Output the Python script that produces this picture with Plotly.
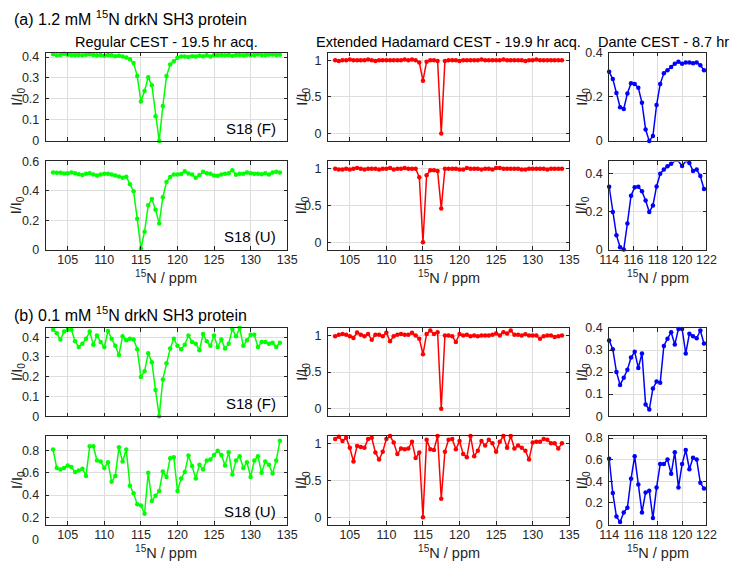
import plotly.graph_objects as go

W, H = 731, 567

# ---------------- data ----------------
ppm_cest = [103.0, 103.5, 104.0, 104.5, 105.0, 105.5, 106.0, 106.5, 107.0, 107.5,
            108.0, 108.5, 109.0, 109.5, 110.0, 110.5, 111.0, 111.5, 112.0, 112.5,
            113.0, 113.5, 114.0, 114.5, 115.0, 115.5, 116.0, 116.5, 117.0, 117.5,
            118.0, 118.5, 119.0, 119.5, 120.0, 120.5, 121.0, 121.5, 122.0, 122.5,
            123.0, 123.5, 124.0, 124.5, 125.0, 125.5, 126.0, 126.5, 127.0, 127.5,
            128.0, 128.5, 129.0, 129.5, 130.0, 130.5, 131.0, 131.5, 132.0, 132.5,
            133.0, 133.5, 134.0]
ppm_dante = [114.0, 114.3, 114.6, 114.9, 115.2, 115.5, 115.8, 116.1, 116.4, 116.7,
             117.0, 117.3, 117.6, 117.9, 118.2, 118.5, 118.8, 119.1, 119.4, 119.7,
             120.0, 120.3, 120.6, 120.9, 121.2, 121.5, 121.8]

reg_F_12 = [0.413, 0.409, 0.410, 0.416, 0.411, 0.410, 0.410, 0.410, 0.409, 0.411,
            0.413, 0.410, 0.408, 0.410, 0.406, 0.410, 0.408, 0.404, 0.406, 0.402,
            0.398, 0.390, 0.372, 0.309, 0.188, 0.238, 0.304, 0.265, 0.118, 0.000,
            0.166, 0.309, 0.364, 0.380, 0.396, 0.402, 0.402, 0.400, 0.404, 0.402,
            0.406, 0.404, 0.408, 0.402, 0.408, 0.409, 0.410, 0.408, 0.410, 0.406,
            0.410, 0.410, 0.408, 0.411, 0.408, 0.410, 0.412, 0.410, 0.410, 0.411,
            0.412, 0.410, 0.411]
reg_U_12 = [0.524, 0.522, 0.522, 0.518, 0.520, 0.524, 0.520, 0.513, 0.507, 0.516,
            0.520, 0.511, 0.504, 0.511, 0.516, 0.516, 0.511, 0.504, 0.498, 0.489,
            0.496, 0.444, 0.396, 0.209, 0.007, 0.122, 0.302, 0.344, 0.271, 0.178,
            0.356, 0.460, 0.493, 0.511, 0.511, 0.515, 0.533, 0.518, 0.511, 0.489,
            0.507, 0.529, 0.520, 0.516, 0.504, 0.502, 0.511, 0.516, 0.520, 0.540,
            0.509, 0.516, 0.516, 0.524, 0.520, 0.516, 0.516, 0.513, 0.520, 0.511,
            0.524, 0.530, 0.524]
had_F_12 = [1.00, 0.99, 1.00, 1.00, 1.01, 1.00, 1.00, 1.00, 1.00, 1.01,
            1.00, 0.99, 1.00, 1.00, 1.00, 1.00, 1.00, 1.00, 1.00, 1.01,
            1.00, 1.01, 1.00, 0.97, 0.72, 0.98, 1.00, 1.00, 0.99, 0.00,
            0.99, 1.00, 1.00, 1.00, 0.99, 1.00, 1.00, 1.00, 1.00, 1.00,
            1.01, 1.00, 1.00, 1.00, 1.00, 1.00, 1.01, 1.00, 1.00, 1.00,
            1.00, 1.00, 0.99, 1.00, 1.00, 1.01, 1.00, 1.00, 1.00, 1.00,
            1.00, 1.00, 1.00]
had_U_12 = [1.00, 0.99, 0.99, 1.00, 0.99, 1.00, 1.01, 1.00, 0.99, 1.00,
            1.00, 1.00, 0.99, 1.00, 1.00, 1.01, 0.99, 1.00, 1.00, 1.01,
            1.00, 1.00, 1.00, 0.885, 0.00, 0.912, 0.978, 0.98, 0.97, 0.458,
            1.00, 1.00, 1.00, 1.00, 0.99, 0.99, 1.01, 1.00, 1.00, 1.00,
            0.99, 1.00, 1.00, 0.99, 1.01, 1.01, 1.00, 1.00, 1.00, 1.00,
            1.00, 0.99, 0.99, 1.00, 1.00, 1.00, 1.00, 1.00, 0.99, 1.00,
            1.00, 1.00, 1.00]
dante_F_12 = [0.314, 0.281, 0.218, 0.153, 0.145, 0.215, 0.262, 0.258, 0.241, 0.173,
              0.052, 0.000, 0.022, 0.163, 0.259, 0.307, 0.321, 0.336, 0.351, 0.359,
              0.350, 0.356, 0.356, 0.353, 0.356, 0.344, 0.321]
dante_U_12 = [0.331, 0.198, 0.076, 0.012, 0.000, 0.138, 0.284, 0.328, 0.331, 0.307,
              0.259, 0.198, 0.233, 0.333, 0.400, 0.422, 0.440, 0.453, 0.466, 0.466,
              0.441, 0.466, 0.457, 0.414, 0.422, 0.388, 0.319]

reg_F_01 = [0.438, 0.420, 0.388, 0.428, 0.438, 0.438, 0.379, 0.350, 0.367, 0.392,
            0.428, 0.362, 0.408, 0.375, 0.350, 0.431, 0.392, 0.356, 0.310, 0.405,
            0.384, 0.392, 0.388, 0.339, 0.198, 0.227, 0.318, 0.273, 0.132, 0.000,
            0.186, 0.268, 0.342, 0.392, 0.356, 0.339, 0.362, 0.408, 0.375, 0.367,
            0.334, 0.416, 0.379, 0.356, 0.408, 0.350, 0.388, 0.342, 0.367, 0.441,
            0.405, 0.446, 0.356, 0.384, 0.412, 0.412, 0.350, 0.375, 0.375, 0.367,
            0.372, 0.350, 0.372]
reg_U_01 = [0.810, 0.643, 0.631, 0.643, 0.667, 0.652, 0.607, 0.622, 0.637, 0.572,
            0.839, 0.839, 0.711, 0.702, 0.643, 0.696, 0.519, 0.572, 0.830, 0.702,
            0.810, 0.483, 0.415, 0.317, 0.305, 0.231, 0.600, 0.347, 0.394, 0.436,
            0.613, 0.563, 0.732, 0.741, 0.436, 0.548, 0.607, 0.756, 0.661, 0.548,
            0.673, 0.631, 0.711, 0.720, 0.761, 0.800, 0.761, 0.667, 0.785, 0.584,
            0.711, 0.750, 0.643, 0.696, 0.563, 0.711, 0.750, 0.600, 0.702, 0.673,
            0.593, 0.711, 0.889]
had_F_01 = [0.99, 1.01, 1.02, 1.01, 0.99, 0.965, 1.04, 1.01, 0.99, 1.02,
            0.94, 1.01, 1.01, 0.99, 1.035, 0.92, 0.99, 1.01, 1.02, 1.01,
            1.01, 1.035, 1.00, 0.955, 0.743, 1.02, 1.066, 1.02, 1.044, 0.00,
            1.00, 1.00, 0.99, 0.91, 1.02, 1.00, 1.01, 0.99, 1.00, 0.99,
            1.00, 1.00, 1.00, 1.01, 1.027, 1.00, 1.044, 1.027, 1.066, 1.01,
            1.01, 1.00, 1.015, 1.00, 1.00, 1.00, 0.955, 0.99, 1.00, 1.00,
            0.98, 0.99, 1.00]
had_U_01 = [1.06, 1.09, 1.03, 1.075, 0.94, 0.754, 0.965, 0.95, 0.94, 1.06,
            1.075, 0.877, 0.78, 0.886, 1.06, 1.10, 1.01, 0.855, 0.93, 0.92,
            0.93, 1.02, 0.80, 0.877, 0.00, 1.05, 0.92, 0.91, 1.10, 0.25,
            0.886, 1.05, 1.06, 0.92, 1.03, 0.855, 0.81, 1.10, 0.825, 0.90,
            1.03, 0.97, 1.05, 1.00, 0.886, 1.02, 1.10, 0.94, 1.10, 0.93,
            0.97, 0.94, 0.90, 0.78, 1.01, 1.02, 1.02, 1.06, 1.05, 1.00,
            1.00, 0.93, 1.00]
dante_F_01 = [0.344, 0.304, 0.201, 0.142, 0.174, 0.211, 0.266, 0.292, 0.219, 0.285,
              0.053, 0.030, 0.126, 0.157, 0.152, 0.319, 0.352, 0.381, 0.325, 0.396,
              0.396, 0.285, 0.374, 0.363, 0.354, 0.389, 0.330]
dante_U_01 = [0.610, 0.292, 0.074, 0.024, 0.113, 0.155, 0.423, 0.631, 0.372, 0.113,
              0.298, 0.313, 0.060, 0.342, 0.560, 0.560, 0.601, 0.470, 0.670, 0.342,
              0.560, 0.690, 0.512, 0.619, 0.601, 0.387, 0.333]

col_titles = ["Regular CEST - 19.5 hr acq.", "Extended Hadamard CEST - 19.9 hr acq.",
              "Dante CEST - 8.7 hr acq."]
group_titles = ["(a) 1.2 mM <sup>15</sup>N drkN SH3 protein",
                "(b) 0.1 mM <sup>15</sup>N drkN SH3 protein"]
residue_labels = ["S18 (F)", "S18 (U)", "S18 (F)", "S18 (U)"]

# ---------------- styling ----------------
FONT = "Arial, 'Liberation Sans', Helvetica, sans-serif"
AX = "#262626"
GRID = "#dedede"
GREEN, RED, BLUE = "#00ff00", "#ff0000", "#0000ff"

COLS = [(36.8, 285.0), (326.8, 575.0), (616.0, 716.0)]
ROWS = [(47.0, 137.3), (158.3, 248.7), (329.2, 419.5), (439.8, 530.7)]


def fx(p):
    return p / W


def fy(p):
    return 1 - p / H


panels = [
    # row, col, x, y, color, xrange, yrange, yticks
    (0, 0, ppm_cest, reg_F_12, GREEN, [102, 135], [0, 0.42], [0, 0.1, 0.2, 0.3, 0.4]),
    (1, 0, ppm_cest, reg_U_12, GREEN, [102, 135], [0, 0.6], [0, 0.2, 0.4, 0.6]),
    (0, 1, ppm_cest, had_F_12, RED, [102, 135], [-0.1, 1.1], [0, 0.5, 1]),
    (1, 1, ppm_cest, had_U_12, RED, [102, 135], [-0.1, 1.1], [0, 0.5, 1]),
    (0, 2, ppm_dante, dante_F_12, BLUE, [114, 122], [0, 0.4], [0, 0.2, 0.4]),
    (1, 2, ppm_dante, dante_U_12, BLUE, [114, 122], [0, 0.465], [0, 0.2, 0.4]),
    (2, 0, ppm_cest, reg_F_01, GREEN, [102, 135], [0, 0.446], [0, 0.1, 0.2, 0.3, 0.4]),
    (3, 0, ppm_cest, reg_U_01, GREEN, [102, 135], [0.133, 0.933], [0.2, 0.4, 0.6, 0.8]),
    (2, 1, ppm_cest, had_F_01, RED, [102, 135], [-0.1, 1.1], [0, 0.5, 1]),
    (3, 1, ppm_cest, had_U_01, RED, [102, 135], [-0.1, 1.1], [0, 0.5, 1]),
    (2, 2, ppm_dante, dante_F_01, BLUE, [114, 122], [0, 0.4], [0, 0.1, 0.2, 0.3, 0.4]),
    (3, 2, ppm_dante, dante_U_01, BLUE, [114, 122], [0, 0.82], [0, 0.2, 0.4, 0.6, 0.8]),
]

fig = go.Figure()
layout = {}
annotations = []

for i, (r, c, xs, ys, color, xr, yr, yt) in enumerate(panels):
    n = i + 1
    xa = "x" if n == 1 else f"x{n}"
    ya = "y" if n == 1 else f"y{n}"
    fig.add_trace(go.Scatter(
        x=xs, y=ys, xaxis=xa, yaxis=ya, mode="lines+markers",
        line=dict(color=color, width=1.5),
        marker=dict(color=color, size=4.5),
        cliponaxis=False, showlegend=False, hoverinfo="skip"))
    x0, x1 = COLS[c]
    y0, y1 = ROWS[r]
    if c == 2:
        xt = [114, 116, 118, 120, 122]
    else:
        xt = [105, 110, 115, 120, 125, 130, 135]
    show_xlab = r in (1, 3)
    common = dict(showline=True, linecolor=AX, linewidth=1, mirror="ticks",
                  ticks="inside", ticklen=3.5, tickcolor=AX, tickwidth=1,
                  showgrid=True, gridcolor=GRID, gridwidth=1, zeroline=False,
                  tickfont=dict(family=FONT, size=12.5, color=AX))
    layout["xaxis" if n == 1 else f"xaxis{n}"] = dict(
        domain=[fx(x0), fx(x1)], range=xr, anchor=ya, tickvals=xt,
        ticktext=[str(v) for v in xt], showticklabels=show_xlab,
        ticklabelstandoff=-2, **common)
    ytext = [("%g" % v) for v in yt]
    layout["yaxis" if n == 1 else f"yaxis{n}"] = dict(
        domain=[fy(y1), fy(y0)], range=yr, anchor=xa, tickvals=yt,
        ticktext=ytext, showticklabels=True, ticklabelstandoff=3, **common)

    # y-axis label
    ylab_x = {0: 8, 1: 301, 2: 589}[c]
    annotations.append(dict(
        x=fx(ylab_x), y=fy((y0 + y1) / 2), xref="paper", yref="paper",
        text="I/I<sub>0</sub>", showarrow=False, textangle=-90,
        font=dict(family=FONT, size=14.5, color=AX), xanchor="center", yanchor="middle"))
    # x-axis label
    if show_xlab:
        annotations.append(dict(
            x=fx((x0 + x1) / 2), y=fy(y1 + 28), xref="paper", yref="paper",
            text="<sup>15</sup>N / ppm", showarrow=False,
            font=dict(family=FONT, size=14.5, color=AX), xanchor="center", yanchor="middle"))
    # residue labels
    if c == 0:
        annotations.append(dict(
            x=fx(276), y=fy(y1 - 13), xref="paper", yref="paper",
            text=residue_labels[r], showarrow=False,
            font=dict(family=FONT, size=15, color="#000000"), xanchor="right", yanchor="middle"))

# column titles
for c, t in enumerate(col_titles):
    x0, x1 = COLS[c]
    if c == 2:
        annotations.append(dict(x=fx(602), y=fy(36), xref="paper", yref="paper", text=t,
                                showarrow=False, xanchor="left", yanchor="middle",
                                font=dict(family=FONT, size=14.5, color="#000000")))
    else:
        annotations.append(dict(x=fx((x0 + x1) / 2), y=fy(36), xref="paper", yref="paper",
                                text=t, showarrow=False, xanchor="center", yanchor="middle",
                                font=dict(family=FONT, size=14.5, color="#000000")))

# group titles
for t, yp in zip(group_titles, [11, 315]):
    annotations.append(dict(x=fx(2), y=fy(yp), xref="paper", yref="paper", text=t,
                            showarrow=False, xanchor="left", yanchor="middle",
                            font=dict(family=FONT, size=16, color="#000000")))

# stray "0" label under the bottom-left panel
annotations.append(dict(x=fx(32), y=fy(546), xref="paper", yref="paper", text="0",
                        showarrow=False, xanchor="right", yanchor="middle",
                        font=dict(family=FONT, size=12.5, color=AX)))

fig.update_layout(
    width=W, height=H, margin=dict(l=0, r=0, t=0, b=0),
    paper_bgcolor="white", plot_bgcolor="white",
    font=dict(family=FONT, color=AX),
    annotations=annotations, **layout)

fig.write_html("out.html")
